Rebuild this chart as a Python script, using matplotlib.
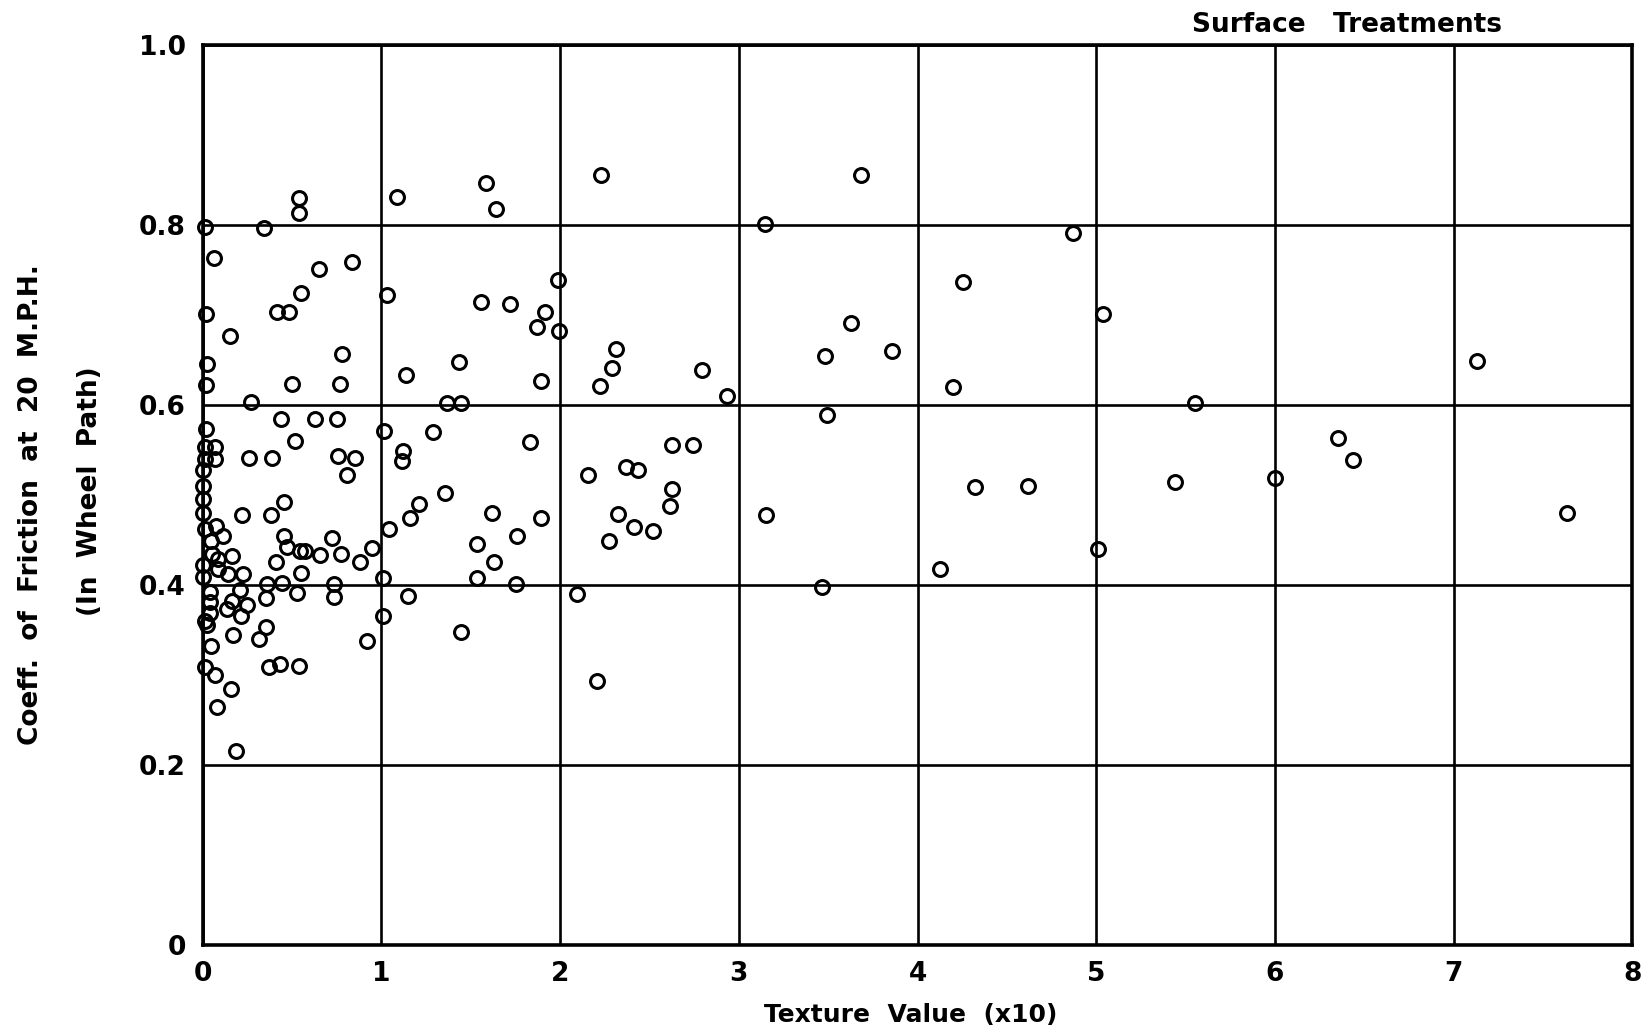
import matplotlib.pyplot as plt

# Texture value (x10) vs. coefficient of friction at 20 mph, surface treatments
texture_value = [
    0.54, 0.54, 0.013, 0.343, 0.063, 0.653, 0.834, 0.548, 0.018, 0.418, 0.485,
    0.155, 0.778, 0.022, 0.018, 0.498, 0.768, 0.272, 0.438, 0.628, 0.75, 0.017,
    0.516,
    0.013, 0.069, 0.013, 0.069, 0.259, 0.386, 0.759, 0.852, 0.806, 0.0, 0.0,
    0.003, 0.457, 0.003, 0.218, 0.38, 0.013, 0.074, 0.115, 0.457, 0.722, 0.045,
    0.473, 0.545, 0.572, 0.656, 0.774, 0.946, 0.88, 0.41, 0.05, 0.087, 0.162,
    0.0, 0.087, 0.143, 0.227, 0.003, 0.55, 0.362, 0.442, 0.737, 0.041, 0.209,
    0.526, 0.737, 0.354, 0.041, 0.162, 0.25, 0.134, 0.041, 0.214, 0.013, 0.022,
    0.354, 0.168, 0.315, 0.921, 0.045, 0.013, 0.069, 0.371, 0.433, 0.541, 0.157,
    0.078, 0.185,
    1.089, 1.584, 1.64, 1.99, 1.033, 1.556, 1.72, 1.915, 1.869, 1.994, 1.434,
    1.136, 1.893, 1.365, 1.444, 1.015, 1.287, 1.832, 1.123, 1.117, 1.356, 1.21,
    1.16, 1.62, 1.893, 1.043, 1.757, 1.533, 1.63, 1.01, 1.533, 1.751, 1.147,
    1.01, 1.444,
    2.229, 2.313, 2.289, 2.223, 2.796, 2.932, 2.624, 2.742, 2.158, 2.367, 2.434,
    2.624, 2.615, 2.326, 2.415, 2.522, 2.275, 2.093, 2.205,
    3.684, 3.147, 4.872, 4.253, 5.036, 3.626, 3.859, 3.481, 4.2, 3.492, 3.152,
    3.467, 4.322, 4.617, 4.126, 5.012,
    7.13, 5.55, 6.351, 6.435, 5.443, 6.0, 7.634,
]
friction_coeff = [
    0.830, 0.813, 0.798, 0.796, 0.763, 0.751, 0.759, 0.724, 0.701, 0.703, 0.703,
    0.677, 0.656, 0.645, 0.622, 0.623, 0.623, 0.603, 0.584, 0.584, 0.584, 0.573,
    0.560,
    0.553, 0.553, 0.540, 0.540, 0.541, 0.541, 0.543, 0.541, 0.522, 0.527, 0.510,
    0.495, 0.492, 0.480, 0.478, 0.478, 0.462, 0.465, 0.454, 0.454, 0.452, 0.449,
    0.442, 0.437, 0.437, 0.433, 0.434, 0.441, 0.425, 0.425, 0.434, 0.429, 0.432,
    0.422, 0.417, 0.412, 0.412, 0.409, 0.413, 0.401, 0.402, 0.401, 0.392, 0.394,
    0.391, 0.386, 0.385, 0.381, 0.382, 0.378, 0.373, 0.369, 0.365, 0.360, 0.355,
    0.353, 0.344, 0.340, 0.338, 0.332, 0.308, 0.300, 0.308, 0.312, 0.310, 0.284,
    0.264, 0.215,
    0.831, 0.847, 0.818, 0.739, 0.722, 0.714, 0.712, 0.703, 0.687, 0.682, 0.648,
    0.633, 0.627, 0.602, 0.602, 0.571, 0.570, 0.559, 0.549, 0.538, 0.502, 0.490,
    0.474, 0.480, 0.474, 0.462, 0.454, 0.445, 0.425, 0.408, 0.407, 0.401, 0.388,
    0.365, 0.348,
    0.856, 0.662, 0.641, 0.621, 0.639, 0.610, 0.555, 0.555, 0.522, 0.531, 0.528,
    0.506, 0.487, 0.479, 0.464, 0.460, 0.449, 0.390, 0.293,
    0.856, 0.801, 0.791, 0.737, 0.701, 0.691, 0.660, 0.654, 0.620, 0.589, 0.477,
    0.398, 0.509, 0.510, 0.418, 0.440,
    0.649, 0.602, 0.563, 0.539, 0.514, 0.519, 0.480,
]

x_ticks = [0, 1, 2, 3, 4, 5, 6, 7, 8]
y_ticks = [0, 0.2, 0.4, 0.6, 0.8, 1.0]
y_tick_labels = ['0', '0.2', '0.4', '0.6', '0.8', '1.0']

plt.rcParams['font.family'] = ['DejaVu Sans']

fig = plt.figure(figsize=(16.49, 10.34), dpi=100)
ax = fig.add_axes([0.1229, 0.0865, 0.867, 0.870])

ax.plot(texture_value, friction_coeff, 'o', markersize=10,
        markerfacecolor='none', markeredgecolor='black',
        markeredgewidth=2.2, clip_on=False, zorder=3)

ax.set_xlim(0, 8)
ax.set_ylim(0, 1.0)
ax.set_xticks(x_ticks)
ax.set_xticklabels([str(t) for t in x_ticks], fontweight='bold')
ax.set_yticks(y_ticks)
ax.set_yticklabels(y_tick_labels, fontweight='bold')
ax.tick_params(length=0, labelsize=19, pad=12)
ax.grid(True, color='black', linewidth=1.9)
ax.set_axisbelow(True)
for s in ax.spines.values():
    s.set_linewidth(2.6)

fig.text(0.552, 0.0185, 'Texture  Value  (x10)', ha='center', va='center',
         fontsize=18, fontweight='bold')
fig.text(0.019, 0.512, 'Coeff.  of  Friction  at  20  M.P.H.', rotation=90,
         ha='center', va='center', fontsize=19, fontweight='bold')
fig.text(0.0545, 0.525, '(In  Wheel  Path)', rotation=90,
         ha='center', va='center', fontsize=19, fontweight='bold')
fig.text(0.817, 0.976, 'Surface   Treatments', ha='center', va='center',
         fontsize=19, fontweight='bold')

plt.savefig('out.png', dpi=100, facecolor='white')
